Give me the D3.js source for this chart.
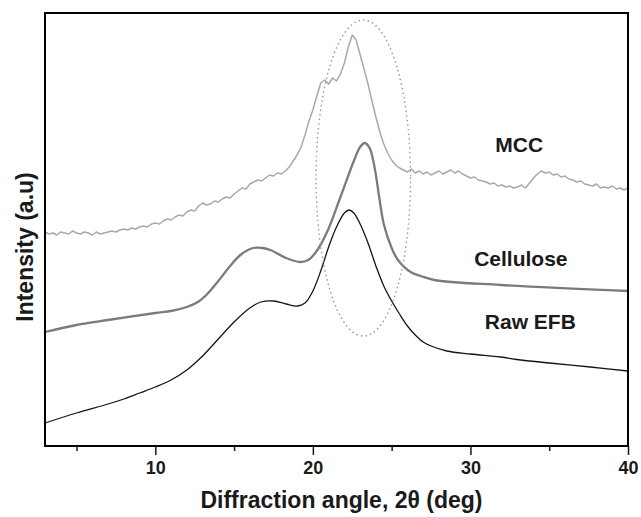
<!DOCTYPE html>
<html>
<head>
<meta charset="utf-8">
<script src="https://cdn.jsdelivr.net/npm/d3@7"></script>
<style>
  body { margin: 0; background: #fff; }
  text { font-family: Arial, "Liberation Sans", sans-serif; font-weight: bold; fill: #1a1a1a; }
</style>
</head>
<body>
<div id="chart"></div>
<script>
const width = 641,
      height = 517,
      margin = { top: 13, right: 13, bottom: 71, left: 45 };

// 2θ (deg) / intensity (a.u.)
const rawAngle = [3, 5, 7, 8, 9, 10, 11, 12, 13, 14, 15, 16, 16.7, 17.5, 18.3, 19.0, 19.5,
                  20.0, 20.5, 21.0, 21.5, 22.0, 22.3, 22.6, 23.0, 23.5, 24.0, 24.5, 25.0, 25.5,
                  26.0, 26.5, 27.0, 27.5, 28.5, 30, 31.9, 33.2, 35, 37.6, 40];
const rawEFB = [23, 33, 42, 47, 53, 59, 66, 76, 90, 107, 124, 138, 144, 145, 142, 140, 143,
                155, 175, 199, 219, 233, 236, 233, 222, 203, 180, 160, 145, 132,
                120, 111, 104, 100, 95, 92, 89, 86, 83, 79, 75];

const celAngle = [3, 5, 7, 10, 11, 12, 12.7, 13.3, 14, 14.75, 15.4, 16.2, 16.8, 17.3, 18.3, 19.2,
                  19.7, 20.2, 20.9, 21.75, 22.6, 23.0, 23.3, 23.6, 23.9, 24.2, 24.5, 25.0, 25.4,
                  26.2, 26.85, 27.7, 31.9, 40];
const cellulose = [114, 121, 126, 133, 135, 139, 144, 152, 165, 180, 191, 198, 198, 196, 188, 184,
                   186, 194, 214, 249, 285, 299, 303, 298, 280, 250, 222, 198, 186,
                   174, 170, 166, 161, 155];

// MCC sampled every 0.25 deg from 3 to 40
const mccStart = 3, mccStep = 0.25;
const mcc = [
  214, 212, 213, 211, 214, 213, 212, 215, 213, 212, 214, 213, 211, 214, 212, 213,
  214, 215, 214, 216, 217, 216, 218, 217, 219, 220, 219, 222, 223, 222, 225, 227,
  226, 229, 231, 230, 234, 236, 235, 240, 243, 241, 242, 245, 244, 247, 249, 248,
  252, 255, 258, 257, 262, 264, 266, 265, 268, 271, 270, 273, 272, 275, 279, 285,
  291, 299, 311, 325, 336, 350, 363, 366, 362, 368, 365, 372, 383, 399, 411, 406,
  391, 377, 362, 345, 329, 314, 302, 293, 286, 281, 278, 276, 274, 277, 273, 275,
  272, 274, 271, 273, 275, 272, 274, 276, 273, 275, 272, 270, 268, 269, 266, 265,
  264, 262, 263, 260, 261, 259, 260, 258, 259, 261, 258, 263, 268, 272, 275, 273,
  274, 271, 272, 269, 270, 267, 266, 264, 265, 262, 261, 260, 262, 258, 259, 258,
  260, 257, 258, 256, 258
];

const xTicks = [10, 20, 30, 40];
const xMinorTicks = [5, 15, 25, 35];

const seriesNames = ['MCC', 'Cellulose', 'Raw EFB'];
const labelAngle = [33.1, 33.2, 33.8];
const labelIntensity = [301, 187, 124];

// dotted ellipse around the (200) reflection, in data units
const ringCenter = [23.2, 268];
const ringRadius = [3.0, 158];

const x = d3.scaleLinear().domain([3, 40]).range([margin.left, width - margin.right]);
const y = d3.scaleLinear().domain([0, 433]).range([height - margin.bottom, margin.top]);

const svg = d3.select('#chart').append('svg')
    .attr('width', width)
    .attr('height', height);

const line = d3.line()
    .x(d => x(d[0]))
    .y(d => y(d[1]));

const smooth = d3.line()
    .x(d => x(d[0]))
    .y(d => y(d[1]))
    .curve(d3.curveCatmullRom.alpha(0.5));

const mccData = mcc.map((v, i) => [mccStart + i * mccStep, v]);
const celData = celAngle.map((a, i) => [a, cellulose[i]]);
const rawData = rawAngle.map((a, i) => [a, rawEFB[i]]);

svg.append('path')
    .attr('d', line(mccData))
    .attr('fill', 'none')
    .attr('stroke', '#a9a9a9')
    .attr('stroke-width', 1.5)
    .attr('stroke-linejoin', 'round');

svg.append('path')
    .attr('d', smooth(celData))
    .attr('fill', 'none')
    .attr('stroke', '#7b7b7b')
    .attr('stroke-width', 2.3);

svg.append('path')
    .attr('d', smooth(rawData))
    .attr('fill', 'none')
    .attr('stroke', '#151515')
    .attr('stroke-width', 1.3);

// dotted ring
svg.append('ellipse')
    .attr('cx', x(ringCenter[0]))
    .attr('cy', y(ringCenter[1]))
    .attr('rx', x(ringCenter[0] + ringRadius[0]) - x(ringCenter[0]))
    .attr('ry', y(0) - y(ringRadius[1]))
    .attr('fill', 'none')
    .attr('stroke', '#9a9a9a')
    .attr('stroke-width', 1.6)
    .attr('stroke-linecap', 'round')
    .attr('stroke-dasharray', '0.1,4.5');

// frame
svg.append('rect')
    .attr('x', margin.left)
    .attr('y', margin.top)
    .attr('width', width - margin.left - margin.right)
    .attr('height', height - margin.top - margin.bottom)
    .attr('fill', 'none')
    .attr('stroke', '#000')
    .attr('stroke-width', 2);

// x axis
const xAxis = svg.append('g')
    .attr('transform', `translate(0,${height - margin.bottom})`)
    .call(d3.axisBottom(x).tickValues(xTicks).tickSize(9).tickPadding(6).tickFormat(d3.format('d')));
xAxis.select('.domain').remove();
xAxis.selectAll('line').attr('stroke', '#1a1a1a').attr('stroke-width', 1.5);
xAxis.selectAll('text')
    .attr('font-family', 'Arial, "Liberation Sans", sans-serif')
    .attr('font-weight', 'bold')
    .attr('font-size', 18)
    .attr('fill', '#1a1a1a');

svg.append('g')
    .attr('transform', `translate(0,${height - margin.bottom})`)
    .call(d3.axisBottom(x).tickValues(xMinorTicks).tickSize(5).tickFormat(''))
    .call(g => g.select('.domain').remove())
    .selectAll('line').attr('stroke', '#1a1a1a').attr('stroke-width', 1.5);

svg.append('text')
    .attr('x', (margin.left + width - margin.right) / 2 + 5)
    .attr('y', 508)
    .attr('text-anchor', 'middle')
    .attr('font-size', 23)
    .text('Diffraction angle, 2θ (deg)');

svg.append('text')
    .attr('transform', 'rotate(-90)')
    .attr('x', -247)
    .attr('y', 33)
    .attr('text-anchor', 'middle')
    .attr('font-size', 23)
    .text('Intensity (a.u)');

// series labels
svg.selectAll('text.series')
    .data(seriesNames)
    .enter().append('text')
    .attr('class', 'series')
    .attr('x', (d, i) => x(labelAngle[i]))
    .attr('y', (d, i) => y(labelIntensity[i]) + 7)
    .attr('text-anchor', 'middle')
    .attr('font-size', 21)
    .text(d => d);
</script>
</body>
</html>
